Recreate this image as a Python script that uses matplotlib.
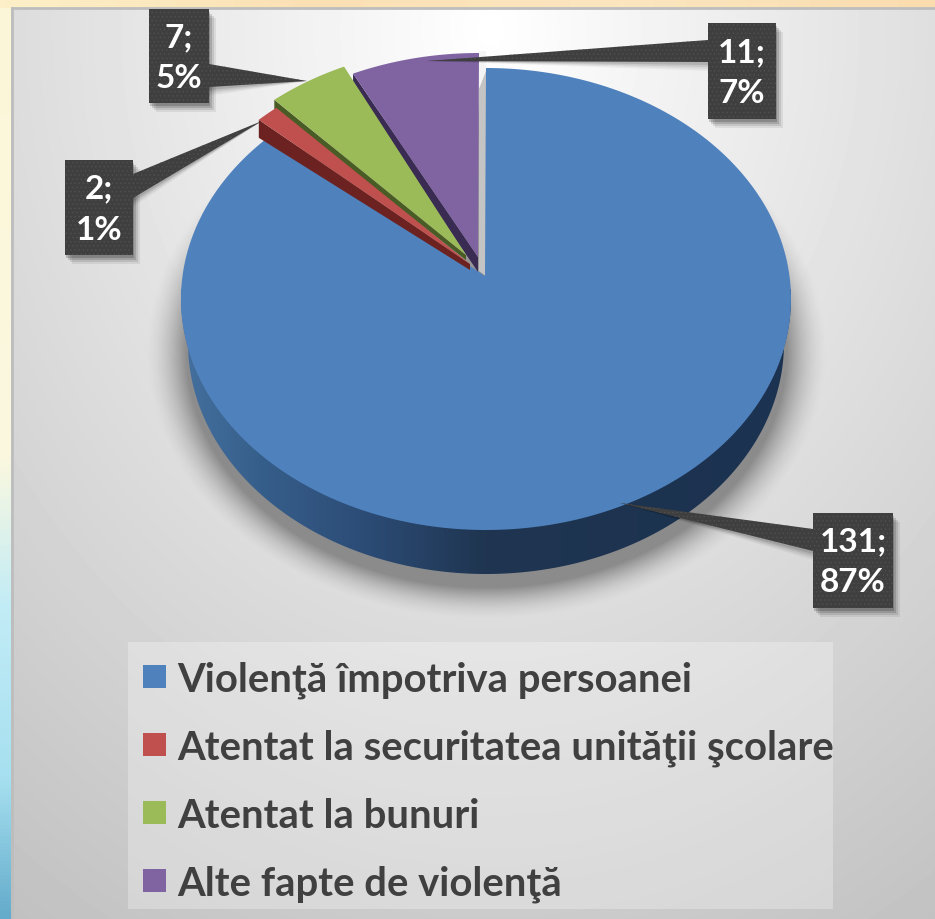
import numpy as np
import matplotlib
matplotlib.use('Agg')
import matplotlib.pyplot as plt
from matplotlib.patches import Polygon, Rectangle
from matplotlib.colors import LinearSegmentedColormap

plt.rcParams['font.family'] = ['Lato', 'DejaVu Sans']
plt.rcParams['hatch.linewidth'] = 0.5

categories = ['Violenţă împotriva persoanei',
              'Atentat la securitatea unităţii şcolare',
              'Atentat la bunuri',
              'Alte fapte de violenţă']
values = [131, 2, 7, 11]

colors = ['#4f81bd', '#c0504d', '#9bbb59', '#8064a2']
side_colors = ['#1c3350', '#6b2220', '#4a5c26', '#3a2b52']

# slice centre, apex of the top face, wall depth at rim and apex (pixels)
slice_center = [(486, 300), (472, 286), (470, 278), (479, 285)]
slice_apex = [(485, 277), (470, 265), (466, 256), (478, 258)]
rim_depth = [45, 18, 10, 14]
apex_depth = [45, 6, 5, 15]

# label boxes x0, y0, x1, y1 and the tip / root of each pointer
boxes = [(813, 514, 893, 609), (65, 161, 133, 256), (149, 10, 209, 104), (708, 24, 776, 120)]
tips = [(620, 504), (262, 122), (307, 82), (427, 62)]
roots = [(530, 552), (175, 199), (65, 88), (41, 63)]

RX, RY = 305, 231
PERSP = 0.93   # perspective squeezes the small slices

W, H = 935, 920
fig = plt.figure(figsize=(W / 100, H / 100), dpi=100)
ax = fig.add_axes([0, 0, 1, 1])

# outer slide background
yy, xx = np.mgrid[0:H, 0:W]
left = LinearSegmentedColormap.from_list('left', [(0, '#fdf6d8'), (0.5, '#fbf8e0'), (0.66, '#c2ecf6'),
                                                  (0.85, '#a6e0f0'), (1, '#64abcb')])
ax.imshow(np.linspace(0, 1, H)[:, None], cmap=left, extent=(0, 11, H, 0), aspect='auto', zorder=0)
top = LinearSegmentedColormap.from_list('top', ['#fdf0c8', '#fbe0b4', '#fbe6c0', '#fadcae'])
ax.imshow(np.linspace(0, 1, W)[None, :], cmap=top, extent=(0, W, 9, 0), aspect='auto', zorder=0)

# grey panel
t = np.sqrt(((xx - 490) / 480.0) ** 2 + ((yy - 30) / 600.0) ** 2)
panel = np.clip(255 - 35 * t, 0, 255) / 255.0
ax.imshow(panel[9:, 11:], cmap='gray', vmin=0, vmax=1, extent=(11, W, H, 9), aspect='auto', zorder=0.5)
ax.plot([12, 12], [9, H], color='#bdbdbd', lw=2, zorder=1)
ax.plot([12, W], [9, 9], color='#bdbdbd', lw=2, zorder=1)

# soft shadow under the pie
d = np.sqrt(((xx - 486) / 300.0) ** 2 + ((yy - 352) / 236.0) ** 2)
alpha = np.clip((1.14 - d) / 0.14, 0, 1) ** 1.7 * 0.38
alpha[yy > 625] = 0
shadow = np.zeros((H, W, 4))
shadow[..., 3] = alpha
ax.imshow(shadow, extent=(0, W, H, 0), aspect='auto', zorder=1)

# slice angles, counted anticlockwise from the top
total = float(sum(values))
small = np.cumsum(values[::-1]) / total * 360 * PERSP   # purple, green, red, blue
ends = {3: (0, small[0]), 2: (small[0], small[1]), 1: (small[1], small[2]), 0: (small[2], 360)}


def arc(i, rx=RX, ry=RY):
    a0, a1 = ends[i]
    a = np.radians(np.linspace(a0, a1, 300))
    cx, cy = slice_center[i]
    return np.column_stack([cx - rx * np.sin(a), cy - ry * np.cos(a)])


# blue outer wall with its horizontal shading
a = np.radians(np.linspace(80, 280, 300))
lower = np.column_stack([486 - 298 * np.sin(a), 344 - 231 * np.cos(a)])
upper = np.column_stack([486 - RX * np.sin(a), 299 - RY * np.cos(a)])
wall = Polygon(np.vstack([lower, upper[::-1]]), closed=True, fc='none', ec='none')
ax.add_patch(wall)
shade = LinearSegmentedColormap.from_list('shade', [(0, '#44709f'), (0.13, '#365e8a'), (0.3, '#2c4c76'),
                                                    (0.5, '#1f3550'), (1, '#1b3250')])
im = ax.imshow(np.linspace(0, 1, 300)[None, :], cmap=shade, extent=(181, 791, 590, 290), aspect='auto', zorder=3)
im.set_clip_path(wall)

# blue top face
ax.add_patch(Polygon(np.vstack([arc(0), slice_apex[0]]), closed=True, fc=colors[0], ec='none', zorder=4))

# the grey lip beside the first slice
ax.add_patch(Polygon([(479, 60), (486, 69), (486, 277), (479, 272)], closed=True, fc='#c4c4c4', ec='none', zorder=2))
ax.add_patch(Polygon([(479, 52), (486, 52), (486, 72), (479, 90)], closed=True, fc='#f4f4f4', ec='none', zorder=2))

# the three pulled out slices with their walls
for i in [1, 2, 3]:
    pts = arc(i)
    outer = pts[-1]
    apex = np.array(slice_apex[i])
    ax.add_patch(Polygon([outer, apex, apex + [0, apex_depth[i]], outer + [0, rim_depth[i]]], closed=True,
                         fc=side_colors[i], ec='none', zorder=4 + i * 0.1))
    ax.add_patch(Polygon(np.vstack([pts, apex]), closed=True, fc=colors[i], ec='none', zorder=4.5 + i * 0.1))

# data labels
for i, v in enumerate(values):
    x0, y0, x1, y1 = boxes[i]
    tip = tips[i]
    r0, r1 = roots[i]
    edge = x0 if tip[0] < x0 else x1
    for off, al in [(9, 0.07), (7, 0.1), (5, 0.14), (3, 0.18)]:
        ax.add_patch(Rectangle((x0 + off - 2, y0 + off), x1 - x0, y1 - y0, fc='black', ec='none', alpha=al, zorder=6))
        ax.add_patch(Polygon([(edge, r0 + off), tip, (edge, r1 + off)], closed=True, fc='black', ec='none',
                             alpha=al * 0.6, zorder=6))
    for patch in [Polygon([(edge, r0), tip, (edge, r1)], closed=True),
                  Rectangle((x0, y0), x1 - x0, y1 - y0)]:
        patch.set(fc='#3f3f3f', ec='#505050', hatch='....', lw=0, zorder=7)
        ax.add_patch(patch)
    pct = int(round(v / total * 100))
    ax.text((x0 + x1) / 2.0, (y0 + y1) / 2.0 + 1, '%d;\n%d%%' % (v, pct), color='white', fontsize=24,
            fontweight='bold', ha='center', va='center', linespacing=1.5, zorder=8)

# legend
ax.add_patch(Rectangle((128, 643), 705, 267, fc='white', ec='none', alpha=0.28, zorder=2))
for i, name in enumerate(categories):
    yc = 677 + i * 68
    ax.add_patch(Rectangle((143, yc - 11.5), 23, 23, fc=colors[i], ec='none', zorder=3))
    ax.text(177, yc, name, color='#404040', fontsize=28.8, fontweight='bold', ha='left', va='center_baseline', zorder=3)

ax.set_xlim(0, W)
ax.set_ylim(H, 0)
ax.axis('off')

fig.savefig('out.png', dpi=100)
